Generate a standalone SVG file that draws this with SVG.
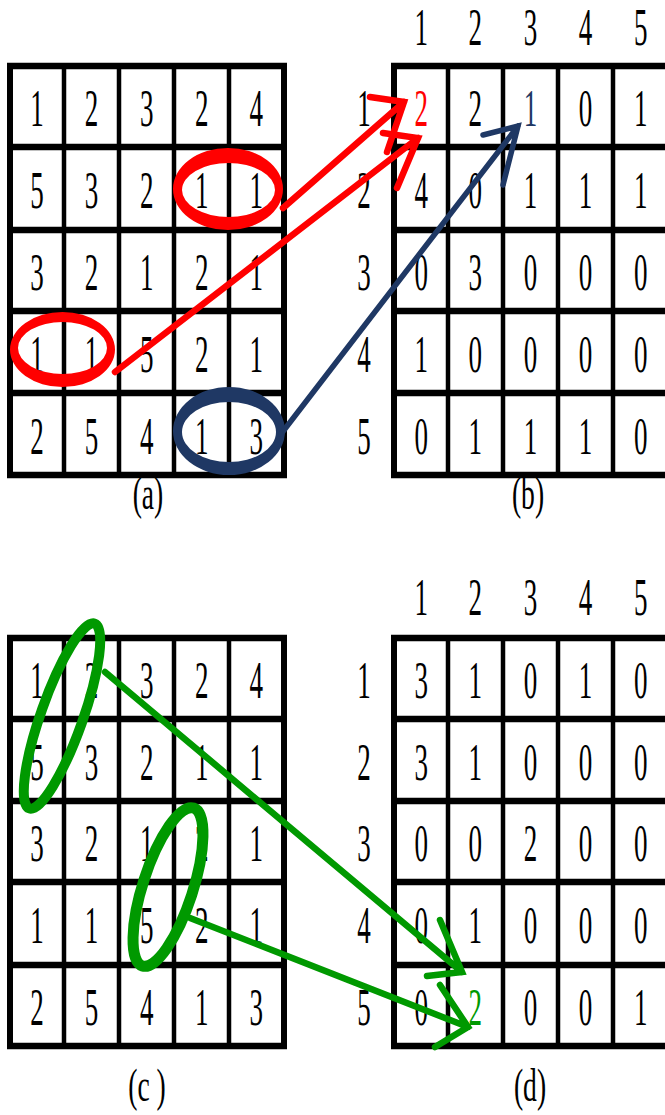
<svg xmlns="http://www.w3.org/2000/svg" width="665" height="1115" viewBox="0 0 665 1115">
<style>
.h{stroke:#000;stroke-width:6.5;fill:none}
.v{stroke:#000;stroke-width:4.5;fill:none}
.vo{stroke:#000;stroke-width:6;fill:none}
.d{font-family:"Liberation Serif","Times New Roman",serif;font-size:52px;text-anchor:middle;fill:#000}
.lb{font-family:"Liberation Serif","Times New Roman",serif;font-size:46px;text-anchor:middle;fill:#000}
.red{fill:#ff0000}
.blue{fill:#1f3864}
.green{fill:#009900}
.ar{stroke:#ff0000;stroke-width:6.5;fill:none;stroke-linecap:round}
.ab{stroke:#1f3864;stroke-width:5.5;fill:none;stroke-linecap:round}
.ag{stroke:#009900;stroke-width:6.5;fill:none;stroke-linecap:round}
</style>
<rect width="665" height="1115" fill="#fff"/>

<g id="gridA">
<path class="h" d="M7,66H287M7,147H287M7,230H287M7,311H287M7,393H287M7,475H287"/>
<path class="vo" d="M10,63V478M284,63V478"/>
<path class="v" d="M64,63V478M119,63V478M174,63V478M229,63V478"/>
<g transform="scale(0.52,1)">
<text class="d" x="71" y="126.5">1</text><text class="d" x="176" y="126.5">2</text><text class="d" x="282" y="126.5">3</text><text class="d" x="388" y="126.5">2</text><text class="d" x="493" y="126.5">4</text>
<text class="d" x="71" y="208.5">5</text><text class="d" x="176" y="208.5">3</text><text class="d" x="282" y="208.5">2</text><text class="d" x="388" y="208.5">1</text><text class="d" x="493" y="208.5">1</text>
<text class="d" x="71" y="290.5">3</text><text class="d" x="176" y="290.5">2</text><text class="d" x="282" y="290.5">1</text><text class="d" x="388" y="290.5">2</text><text class="d" x="493" y="290.5">1</text>
<text class="d" x="71" y="372">1</text><text class="d" x="176" y="372">1</text><text class="d" x="282" y="372">5</text><text class="d" x="388" y="372">2</text><text class="d" x="493" y="372">1</text>
<text class="d" x="71" y="454">2</text><text class="d" x="176" y="454">5</text><text class="d" x="282" y="454">4</text><text class="d" x="388" y="454">1</text><text class="d" x="493" y="454">3</text>
</g>
<text class="lb" transform="translate(148,509) scale(0.6,1)">(a)</text>
</g>

<g id="gridB">
<path class="h" d="M391,66H670M391,147H670M391,230H670M391,311H670M391,393H670M391,475H670"/>
<path class="vo" d="M394,63V478"/>
<path class="v" d="M448,63V478M503,63V478M558,63V478M613,63V478"/>
<g transform="scale(0.52,1)">
<text class="d" x="810" y="45">1</text><text class="d" x="914" y="45">2</text><text class="d" x="1020" y="45">3</text><text class="d" x="1126" y="45">4</text><text class="d" x="1232" y="45">5</text>
<text class="d" x="700" y="126.5">1</text><text class="d" x="700" y="208.5">2</text><text class="d" x="700" y="290.5">3</text><text class="d" x="700" y="372">4</text><text class="d" x="700" y="454">5</text>
<text class="d red" x="810" y="126.5">2</text><text class="d" x="914" y="126.5">2</text><text class="d blue" x="1020" y="126.5">1</text><text class="d" x="1126" y="126.5">0</text><text class="d" x="1232" y="126.5">1</text>
<text class="d" x="810" y="208.5">4</text><text class="d" x="914" y="208.5">0</text><text class="d" x="1020" y="208.5">1</text><text class="d" x="1126" y="208.5">1</text><text class="d" x="1232" y="208.5">1</text>
<text class="d" x="810" y="290.5">0</text><text class="d" x="914" y="290.5">3</text><text class="d" x="1020" y="290.5">0</text><text class="d" x="1126" y="290.5">0</text><text class="d" x="1232" y="290.5">0</text>
<text class="d" x="810" y="372">1</text><text class="d" x="914" y="372">0</text><text class="d" x="1020" y="372">0</text><text class="d" x="1126" y="372">0</text><text class="d" x="1232" y="372">0</text>
<text class="d" x="810" y="454">0</text><text class="d" x="914" y="454">1</text><text class="d" x="1020" y="454">1</text><text class="d" x="1126" y="454">1</text><text class="d" x="1232" y="454">0</text>
</g>
<text class="lb" transform="translate(528,509) scale(0.6,1)">(b)</text>
</g>

<g id="gridC">
<path class="h" d="M7,638H287M7,719H287M7,801H287M7,882H287M7,965H287M7,1046H287"/>
<path class="vo" d="M10,635V1049M284,635V1049"/>
<path class="v" d="M64,635V1049M119,635V1049M174,635V1049M229,635V1049"/>
<g transform="scale(0.52,1)">
<text class="d" x="71" y="698.5">1</text><text class="d" x="176" y="698.5">2</text><text class="d" x="282" y="698.5">3</text><text class="d" x="388" y="698.5">2</text><text class="d" x="493" y="698.5">4</text>
<text class="d" x="71" y="780">5</text><text class="d" x="176" y="780">3</text><text class="d" x="282" y="780">2</text><text class="d" x="388" y="780">1</text><text class="d" x="493" y="780">1</text>
<text class="d" x="71" y="861.5">3</text><text class="d" x="176" y="861.5">2</text><text class="d" x="282" y="861.5">1</text><text class="d" x="388" y="861.5">2</text><text class="d" x="493" y="861.5">1</text>
<text class="d" x="71" y="943.5">1</text><text class="d" x="176" y="943.5">1</text><text class="d" x="282" y="943.5">5</text><text class="d" x="388" y="943.5">2</text><text class="d" x="493" y="943.5">1</text>
<text class="d" x="71" y="1025.5">2</text><text class="d" x="176" y="1025.5">5</text><text class="d" x="282" y="1025.5">4</text><text class="d" x="388" y="1025.5">1</text><text class="d" x="493" y="1025.5">3</text>
</g>
<text class="lb" transform="translate(147,1101) scale(0.6,1)">(c )</text>
</g>

<g id="gridD">
<path class="h" d="M391,638H670M391,719H670M391,801H670M391,882H670M391,965H670M391,1046H670"/>
<path class="vo" d="M394,635V1049"/>
<path class="v" d="M448,635V1049M503,635V1049M558,635V1049M613,635V1049"/>
<g transform="scale(0.52,1)">
<text class="d" x="810" y="615">1</text><text class="d" x="914" y="615">2</text><text class="d" x="1020" y="615">3</text><text class="d" x="1126" y="615">4</text><text class="d" x="1232" y="615">5</text>
<text class="d" x="700" y="698.5">1</text><text class="d" x="700" y="780">2</text><text class="d" x="700" y="861.5">3</text><text class="d" x="700" y="943.5">4</text><text class="d" x="700" y="1025.5">5</text>
<text class="d" x="810" y="698.5">3</text><text class="d" x="914" y="698.5">1</text><text class="d" x="1020" y="698.5">0</text><text class="d" x="1126" y="698.5">1</text><text class="d" x="1232" y="698.5">0</text>
<text class="d" x="810" y="780">3</text><text class="d" x="914" y="780">1</text><text class="d" x="1020" y="780">0</text><text class="d" x="1126" y="780">0</text><text class="d" x="1232" y="780">0</text>
<text class="d" x="810" y="861.5">0</text><text class="d" x="914" y="861.5">0</text><text class="d" x="1020" y="861.5">2</text><text class="d" x="1126" y="861.5">0</text><text class="d" x="1232" y="861.5">0</text>
<text class="d" x="810" y="943.5">0</text><text class="d" x="914" y="943.5">1</text><text class="d" x="1020" y="943.5">0</text><text class="d" x="1126" y="943.5">0</text><text class="d" x="1232" y="943.5">0</text>
<text class="d" x="810" y="1025.5">0</text><text class="d green" x="914" y="1025.5">2</text><text class="d" x="1020" y="1025.5">0</text><text class="d" x="1126" y="1025.5">0</text><text class="d" x="1232" y="1025.5">1</text>
</g>
<text class="lb" transform="translate(530,1101) scale(0.6,1)">(d)</text>
</g>

<g id="connectors">
<path fill="#ff0000" fill-rule="evenodd" d="M173,189a55,41 0 1,0 110,0a55,41 0 1,0 -110,0ZM182,190a46.5,27 0 1,0 93,0a46.5,27 0 1,0 -93,0Z"/>
<path fill="#ff0000" fill-rule="evenodd" d="M10,349.5a52.5,37.5 0 1,0 105,0a52.5,37.5 0 1,0 -105,0ZM18,348a44.5,26 0 1,0 89,0a44.5,26 0 1,0 -89,0Z"/>
<path fill="#1f3864" fill-rule="evenodd" d="M173,431a56,44 0 1,0 112,0a56,44 0 1,0 -112,0ZM182,432a47,30 0 1,0 94,0a47,30 0 1,0 -94,0Z"/>
<ellipse cx="62" cy="716" rx="98" ry="21" transform="rotate(-70.5 62 716)" fill="none" stroke="#009900" stroke-width="10"/>
<ellipse cx="168" cy="887" rx="83" ry="25" transform="rotate(-72 168 887)" fill="none" stroke="#009900" stroke-width="11"/>
<path class="ar" d="M283,208L404,102M370,97L404,102L387,152"/>
<path class="ar" d="M115,372L418,138M383,133L418,138L397,188"/>
<path class="ab" d="M281,434L518,126M483,135L518,126L503,185"/>
<path class="ag" d="M105,672L462,972M427,976L462,972L440,920"/>
<path class="ag" d="M190,918L468,1027M435,1047L468,1027L440,985"/>
</g>
</svg>
